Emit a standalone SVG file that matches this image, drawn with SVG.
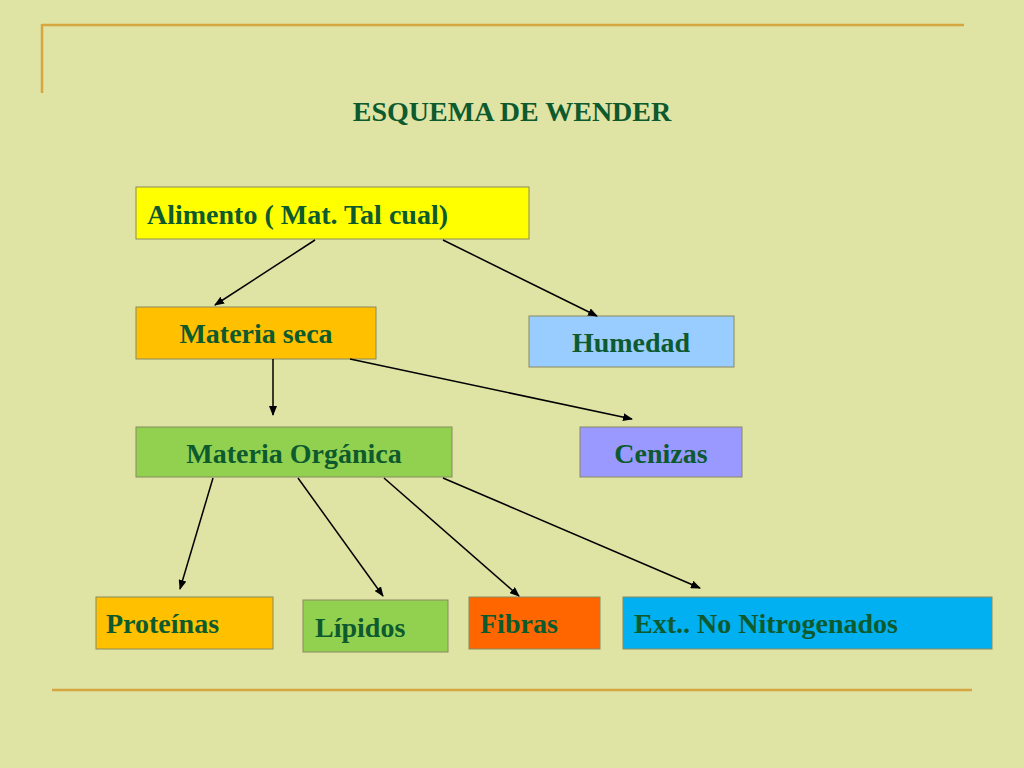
<svg xmlns="http://www.w3.org/2000/svg" width="1024" height="768" viewBox="0 0 1024 768">
<defs>
<marker id="ah" markerWidth="10" markerHeight="8" refX="9" refY="4" orient="auto" markerUnits="userSpaceOnUse"><path d="M0,0 L10,4 L0,8 z" fill="#000"/></marker>
<style>
.b{stroke:#8a8a60;stroke-width:1}
.t{font-family:"Liberation Serif",serif;font-weight:bold;font-size:28px;fill:#0d5a2e}
.c line{stroke:#000;stroke-width:1.5;marker-end:url(#ah)}
.d{stroke:#d6a640;stroke-width:2.5}
</style>
</defs>
<rect width="1024" height="768" fill="#dfe3a4"/>
<line class="d" x1="42" y1="25" x2="964" y2="25"/>
<line class="d" x1="42" y1="24" x2="42" y2="93"/>
<line class="d" x1="52" y1="690" x2="972" y2="690"/>
<text class="t" x="512" y="121" text-anchor="middle">ESQUEMA DE WENDER</text>
<g id="alimento"><rect class="b" x="136" y="187" width="393" height="52" fill="#ffff00"/><text class="t" x="147" y="224">Alimento ( Mat. Tal cual)</text></g>
<g id="seca"><rect class="b" x="136" y="307" width="240" height="52" fill="#ffc000"/><text class="t" x="256" y="343" text-anchor="middle">Materia seca</text></g>
<g id="humedad"><rect class="b" x="529" y="316" width="205" height="51" fill="#99ccff"/><text class="t" x="631" y="352" text-anchor="middle">Humedad</text></g>
<g id="organica"><rect class="b" x="136" y="427" width="316" height="50" fill="#92d050"/><text class="t" x="294" y="463" text-anchor="middle">Materia Orgánica</text></g>
<g id="cenizas"><rect class="b" x="580" y="427" width="162" height="50" fill="#9999ff"/><text class="t" x="661" y="463" text-anchor="middle">Cenizas</text></g>
<g id="proteinas"><rect class="b" x="96" y="597" width="177" height="52" fill="#ffc000"/><text class="t" x="106" y="633">Proteínas</text></g>
<g id="lipidos"><rect class="b" x="303" y="600" width="145" height="52" fill="#92d050"/><text class="t" x="315" y="637">Lípidos</text></g>
<g id="fibras"><rect class="b" x="469" y="597" width="131" height="52" fill="#ff6600"/><text class="t" x="480" y="633">Fibras</text></g>
<g id="ext"><rect class="b" x="623" y="597" width="369" height="52" fill="#00b0f0"/><text class="t" x="634" y="633">Ext.. No Nitrogenados</text></g>
<g id="connectors" class="c">
<line x1="315" y1="240" x2="215" y2="305"/>
<line x1="443" y1="240" x2="597" y2="316"/>
<line x1="273" y1="359" x2="273" y2="415"/>
<line x1="350" y1="359" x2="632" y2="419"/>
<line x1="213" y1="478" x2="180" y2="589"/>
<line x1="298" y1="478" x2="383" y2="596"/>
<line x1="384" y1="478" x2="519" y2="596"/>
<line x1="443" y1="478" x2="700" y2="588"/>
</g>
</svg>
